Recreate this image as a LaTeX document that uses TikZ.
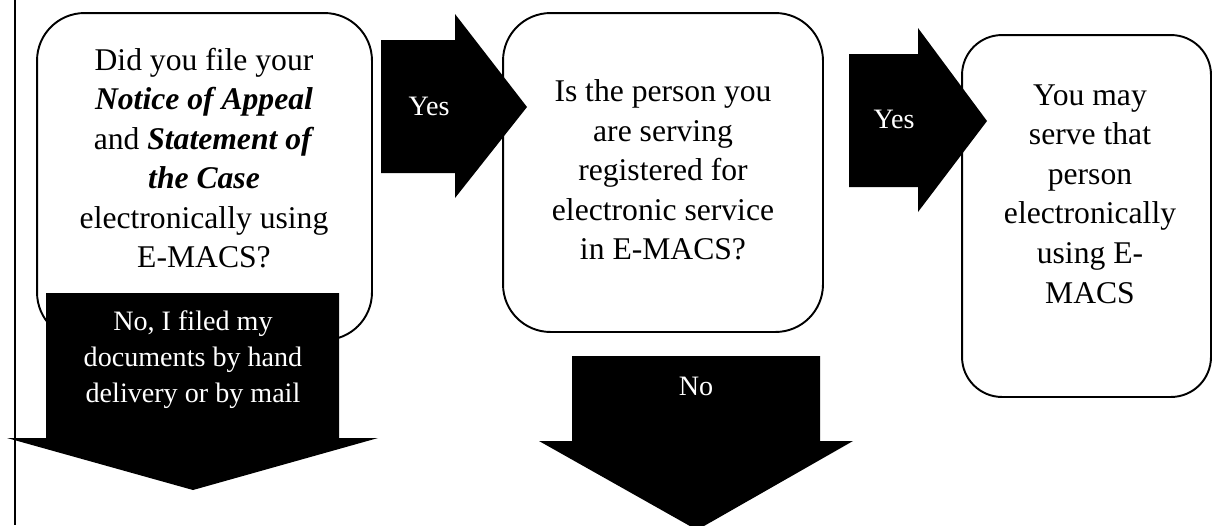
\documentclass[tikz,border=0pt]{standalone}
\usepackage{fontspec}
\setmainfont{Liberation Serif}
\usetikzlibrary{calc,positioning}

\begin{document}
\begin{tikzpicture}[x=0.02cm,y=-0.02cm,line width=1.1pt,
		qbox/.style={rectangle,rounded corners=0.95cm,draw,fill=white,inner sep=0pt},
		qtext/.style={align=center,inner sep=0pt,font=\fontsize{18}{22.5}\selectfont},
		atext/.style={align=center,inner sep=0pt,text=white,font=\fontsize{16}{20.5}\selectfont}]
		\useasboundingbox (0,0) rectangle (1212,525);
		\coordinate (top) at (15,0);
		\coordinate (bottom) at (15,525);
		\draw (top) -- (bottom);
		% question and answer boxes
		\node (filed) [qbox,minimum width=6.7cm,minimum height=6.54cm] at (204.5,176.5) {};
		\node (registered) [qbox,minimum width=6.4cm,minimum height=6.38cm] at (663,172.5) {};
		\node (serve) [qbox,rounded corners=0.8cm,minimum width=4.98cm,minimum height=7.24cm] at (1086.5,216) {};
		% block arrows
		\fill (381,40) -- (455,40) -- (455,14) -- (527,107) -- (455,198) -- (455,173) -- (381,173) -- cycle;
		\fill (849,54) -- (918,54) -- (918,28) -- (987,121) -- (918,212) -- (918,187) -- (849,187) -- cycle;
		\fill (46,293) -- (339,293) -- (339,438) -- (378,438) -- (193,490) -- (7,438) -- (46,438) -- cycle;
		\fill (572,356) -- (820,356) -- (820,441) -- (853,441) -- (697,530) -- (539,441) -- (572,441) -- cycle;
		% texts
		\node (filedtext) [qtext] at (204,158) {Did you file your\\ \textbf{\textit{Notice of Appeal}}\\ and \textbf{\textit{Statement of}}\\ \textbf{\textit{the Case}}\\ electronically using\\ E-MACS?};
		\node (registeredtext) [qtext] at (663,170) {Is the person you\\ are serving\\ registered for\\ electronic service\\ in E-MACS?};
		\node (servetext) [qtext] at (1090,194) {You may\\ serve that\\ person\\ electronically\\ using E-\\ MACS};
		\node (yes1) [atext] at (429,106) {Yes};
		\node (yes2) [atext] at (894,119) {Yes};
		\node (no1) [atext] at (193,360) {No, I filed my\\ documents by hand\\ delivery or by mail};
		\node (no2) [atext] at (696,386) {No};
		\end{tikzpicture}
\end{document}
